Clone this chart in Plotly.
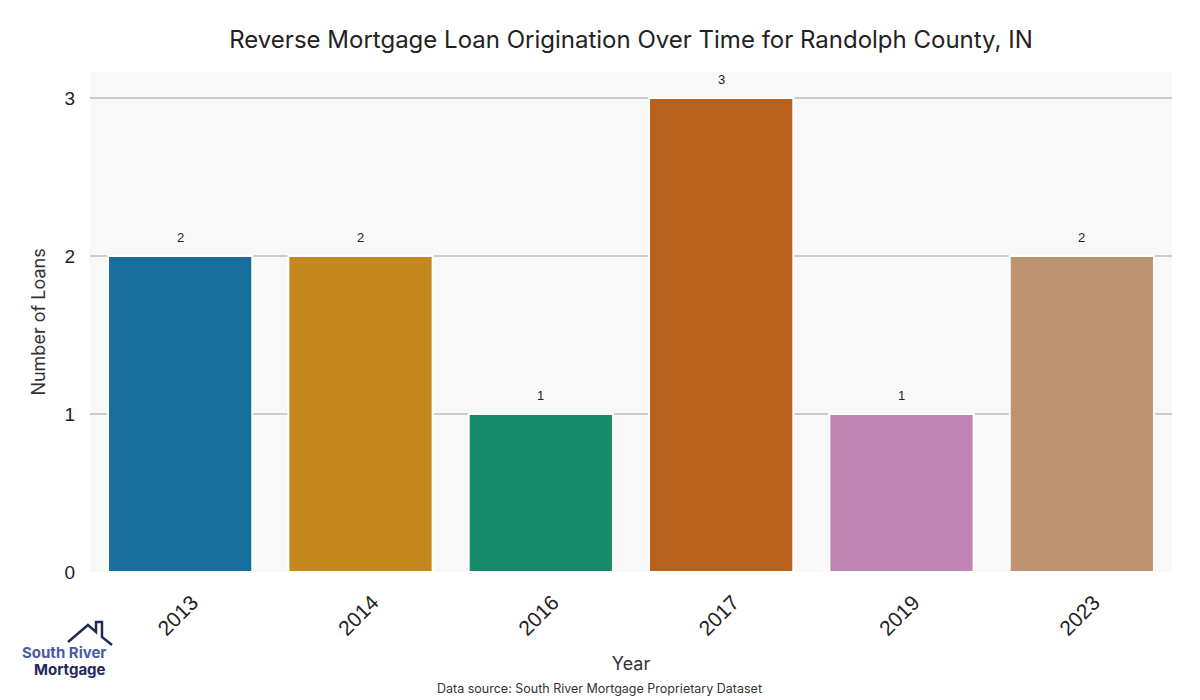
import plotly.graph_objects as go

years = ["2013", "2014", "2016", "2017", "2019", "2023"]
loans = [2, 2, 1, 3, 1, 2]
bar_colors = ["#176d9c", "#c4881f", "#168b6a", "#b8601e", "#c283b5", "#bd9370"]

fig = go.Figure()
fig.add_trace(go.Bar(
    x=years, y=loans,
    marker=dict(color=bar_colors, line=dict(color="white", width=2)),
    hoverinfo="x+y",
))

for i, v in enumerate(loans):
    fig.add_annotation(x=i, y=v, text=str(v), showarrow=False, yshift=19,
                       font=dict(family="Liberation Sans, Arial", size=13, color="#222"))

fig.update_layout(
    width=1192, height=692,
    margin=dict(l=82, r=28, t=64, b=128, autoexpand=False),
    paper_bgcolor="white",
    plot_bgcolor="#f8f8f8",
    bargap=0.2,
    showlegend=False,
    title=dict(text="Reverse Mortgage Loan Origination Over Time for Randolph County, IN",
               xref="paper", x=0.5, xanchor="center", y=0.9538, yanchor="middle",
               font=dict(family="Inter, Lato, sans-serif", size=24, color="#222")),
    xaxis=dict(type="category", categoryorder="array", categoryarray=years,
               range=[-0.5, len(years) - 0.5],
               title=dict(text="Year", font=dict(family="Inter, sans-serif", size=18, color="#333"), standoff=18),
               tickangle=-45, tickfont=dict(family="Liberation Sans, Arial", size=21, color="#222"),
               ticklabelshift=12, ticklabelstandoff=13,
               showgrid=False, zeroline=False, showline=False, ticks=""),
    yaxis=dict(title=dict(text="Number of Loans", font=dict(family="Inter, sans-serif", size=18, color="#333"), standoff=14),
               range=[0, 3.165], tickvals=[0, 1, 2, 3],
               tickfont=dict(family="Liberation Sans, Arial", size=19, color="#222"),
               ticklabelstandoff=14,
               showgrid=True, gridcolor="#cccccc", gridwidth=1.5, zeroline=False,
               showline=False, ticks=""),
    font=dict(family="Liberation Sans, Arial"),
)

fig.add_annotation(xref="paper", yref="paper", x=0.471, y=-0.232, yanchor="middle",
                   xanchor="center", showarrow=False,
                   text="Data source: South River Mortgage Proprietary Dataset",
                   font=dict(family="Inter, sans-serif", size=12.5, color="#333"))

# logo
fig.add_annotation(xref="paper", yref="paper", x=0.0166, y=-0.16, xanchor="right", yanchor="middle",
                   showarrow=False, text="<b>South River</b>",
                   font=dict(family="Inter, sans-serif", size=15, color="#4a5aa8"))
fig.add_annotation(xref="paper", yref="paper", x=0.0166, y=-0.194, xanchor="right", yanchor="middle",
                   showarrow=False, text="<b>Mortgage</b>",
                   font=dict(family="Inter, sans-serif", size=15, color="#222a5c"))
fig.add_shape(type="path", xref="paper", yref="paper",
              path="M -0.0203 -0.14 L -0.00185 -0.106 L 0.00555 -0.12 L 0.00555 -0.10 L 0.01109 -0.10 L 0.01109 -0.13 L 0.02033 -0.146",
              line=dict(color="#222a5c", width=2.5), fillcolor="rgba(0,0,0,0)")

fig.write_html("out.html")
